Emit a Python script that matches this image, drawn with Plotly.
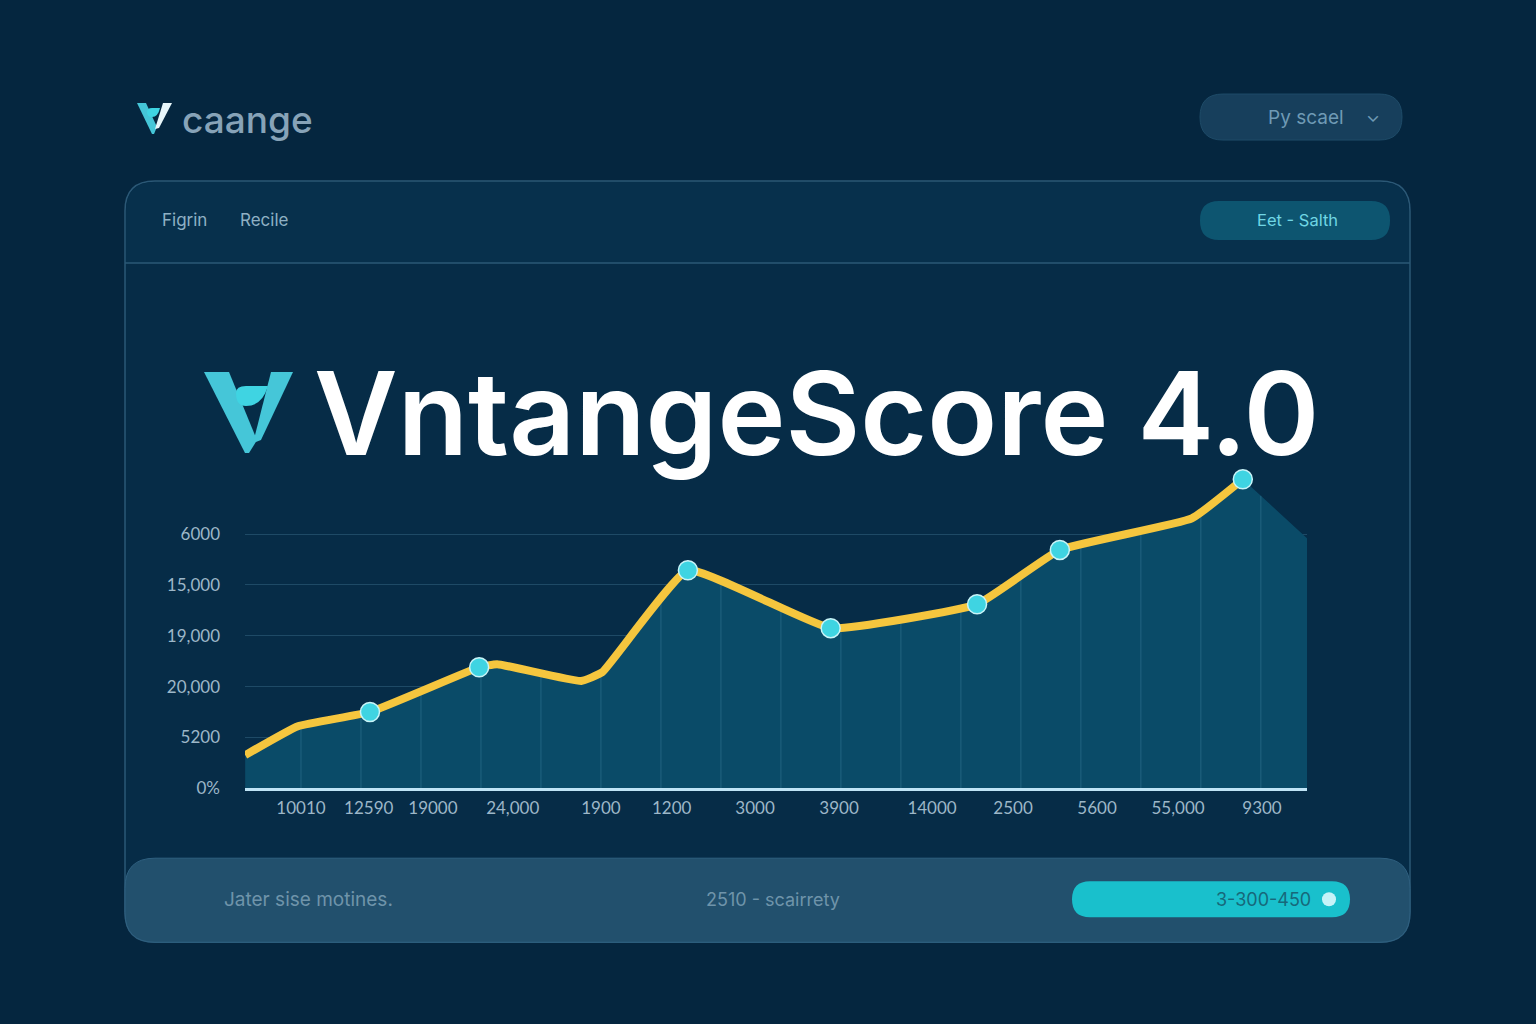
import numpy as np
import plotly.graph_objects as go

W, H = 1536, 1024
YS = 1.0101  # vertical compensation so the photographed page lines up with the design grid

# ---------------- data ----------------
line_x = [-0.93, -0.05, 1.15, 2.97, 3.27, 4.67, 5.02, 6.45, 8.83, 11.27, 12.65, 14.85, 15.70]
line_y = [0.65, 1.22, 1.50, 2.38, 2.44, 2.11, 2.28, 4.29, 3.15, 3.62, 4.69, 5.31, 6.08]
fill_tail_x = [16.77]
fill_tail_y = [4.92]
marker_idx = [2, 3, 7, 8, 9, 10, 12]
x_tick_pos = [0, 1.13, 2.2, 3.53, 5.0, 6.18, 7.57, 8.97, 10.52, 11.87, 13.27, 14.62, 16.02]
x_tick_labels = ["10010", "12590", "19000", "24,000", "1900", "1200", "3000",
                 "3900", "14000", "2500", "5600", "55,000", "9300"]
y_tick_pos = [0, 1, 2, 3, 4, 5]
y_tick_labels = ["0%", "5200", "20,000", "19,000", "15,000", "6000"]
vgrid_x = list(range(0, 17))

title_text = "VntangeScore 4.0"
brand_text = "caange"
tabs = ["Figrin", "Recile"]
dropdown_text = "Py scael"
pill_text = "Eet - Salth"
footer_left = "Jater sise motines."
footer_mid = "2510 - scairrety"
footer_pill = "3-300-450"

# ---------------- colours ----------------
BG = "#05263f"
CARD = "#062c47"
CARD_HEAD = "#07304c"
BORDER = "#2b5876"
FILL = "#0a4b68"
LINE = "#f5c63e"
MARK = "#3fd4e2"
FOOT = "#22506d"
TICK = "#9db7c8"

XR = [-0.933, 16.77]
YR = [0.0, 6.5]


def px(x):
    return x / W


def py(y):
    return 1 - y * YS / H


def P(x, y):
    return f"{px(x):.5f},{py(y):.5f}"


def rrect(x0, y0, x1, y1, r, top=True, bottom=True):
    rt = r if top else 0
    rb = r if bottom else 0
    return (f"M {P(x0 + rt, y0)} L {P(x1 - rt, y0)} Q {P(x1, y0)} {P(x1, y0 + rt)} "
            f"L {P(x1, y1 - rb)} Q {P(x1, y1)} {P(x1 - rb, y1)} "
            f"L {P(x0 + rb, y1)} Q {P(x0, y1)} {P(x0, y1 - rb)} "
            f"L {P(x0, y0 + rt)} Q {P(x0, y0)} {P(x0 + rt, y0)} Z")


def poly(pts):
    s = "M " + P(*pts[0])
    for p in pts[1:]:
        s += " L " + P(*p)
    return s + " Z"


shapes = []


def add_path(path, fill, line_color=None, width=0, layer="below"):
    shapes.append(dict(type="path", xref="paper", yref="paper", path=path,
                       fillcolor=fill, line=dict(color=line_color or "rgba(0,0,0,0)", width=width),
                       layer=layer))


# card + header + footer
add_path(rrect(125, 181, 1410, 942, 30), CARD, BORDER, 1.5)
add_path(rrect(126, 182, 1409, 263, 29, bottom=False), CARD_HEAD)
shapes.append(dict(type="line", xref="paper", yref="paper", x0=px(125), x1=px(1410),
                   y0=py(263), y1=py(263), line=dict(color=BORDER, width=1.5), layer="below"))
add_path(rrect(125, 858, 1410, 942, 30), FOOT, "#2f6080", 1)
# dropdown pill
add_path(rrect(1200, 94, 1402, 140, 23), "#173f5c", "#1e4b68", 1)
# header pill
add_path(rrect(1200, 201, 1390, 240, 19), "#0d5570")
# footer pill
add_path(rrect(1072, 881, 1350, 917, 18), "#19c0cc")
shapes.append(dict(type="circle", xref="paper", yref="paper", x0=px(1322), x1=px(1336),
                   y0=py(906), y1=py(892), fillcolor="#c6f3f8", line=dict(width=0), layer="above"))

# big logo
add_path(poly([(204, 372), (229, 372), (257, 440), (249, 453), (245, 453)]), "#45c6d8")
add_path(poly([(271, 372), (293, 372), (261, 440), (253, 443)]), "#45c6d8")
add_path(f"M {P(236, 393)} Q {P(236, 386)} {P(246, 386)} L {P(268, 386)} "
         f"Q {P(262, 406)} {P(246, 406)} Q {P(236, 406)} {P(236, 393)} Z", "#3fd4e2")
# small logo
add_path(poly([(137, 103), (146, 103), (157, 127), (154, 134), (152, 134)]), "#45c6d8")
add_path(poly([(163, 103), (172, 103), (159, 128), (155, 129)]), "#e8f6fa")
add_path(f"M {P(147, 112)} Q {P(147, 108)} {P(152, 108)} L {P(160, 108)} "
         f"Q {P(158, 117)} {P(152, 117)} Q {P(147, 117)} {P(147, 112)} Z", "#3fd4e2")

fig = go.Figure()

# area fill
fx = line_x + fill_tail_x
fy = line_y + fill_tail_y
fig.add_trace(go.Scatter(x=fx, y=fy, mode="lines", line=dict(width=0, color=FILL),
                         fill="tozeroy", fillcolor=FILL, hoverinfo="skip", showlegend=False))

# vertical grid lines inside the area
gx, gy = [], []
for v in vgrid_x:
    top = float(np.interp(v, fx, fy))
    gx += [v, v, None]
    gy += [0, top, None]
fig.add_trace(go.Scatter(x=gx, y=gy, mode="lines",
                         line=dict(color="rgba(110,180,210,0.20)", width=1.2),
                         hoverinfo="skip", showlegend=False))

# line
fig.add_trace(go.Scatter(x=line_x, y=line_y, mode="lines",
                         line=dict(color=LINE, width=8, shape="spline", smoothing=0.35),
                         showlegend=False))
# markers
fig.add_trace(go.Scatter(x=[line_x[i] for i in marker_idx], y=[line_y[i] for i in marker_idx],
                         mode="markers",
                         marker=dict(size=19, color=MARK, line=dict(color="#c9f4f8", width=1.5)),
                         showlegend=False))

ann = []


def text(x, y, s, size, color, anchor="left", family="Inter", weight=400):
    ann.append(dict(x=px(x), y=py(y), xref="paper", yref="paper", text=s, showarrow=False,
                    xanchor=anchor, yanchor="middle",
                    font=dict(size=size, color=color, family=family, weight=weight)))


text(180, 119, brand_text, 37, "#87a3b8", weight=500)
text(1306, 117, dropdown_text, 19, "#6f9ab5", anchor="center")
text(1373, 115, "⌄", 18, "#6f9ab5", anchor="center")
text(160, 220, tabs[0], 17, "#8fb0c4")
text(238, 220, tabs[1], 17, "#8fb0c4")
text(1297, 220, pill_text, 16.5, "#6fd6e4", anchor="center")
text(312, 413, title_text, 115, "#ffffff", weight=600)
text(222, 899, footer_left, 19, "#6f94aa")
text(773, 899, footer_mid, 18, "#6f94aa", anchor="center")
text(1313, 899, footer_pill, 18, "#17687a", anchor="right")

fig.update_layout(
    width=W, height=H, margin=dict(l=0, r=0, t=0, b=0),
    paper_bgcolor=BG, plot_bgcolor="rgba(0,0,0,0)",
    shapes=shapes, annotations=ann, showlegend=False,
    xaxis=dict(domain=[px(245), px(1307)], range=XR, tickvals=x_tick_pos, ticktext=x_tick_labels,
               showgrid=False, zeroline=False, showline=True, linecolor="#bfe4f6", linewidth=3,
               ticks="", tickfont=dict(size=17, color=TICK, family="Lato"), ticklabelstandoff=2),
    yaxis=dict(domain=[py(788), py(788 - 6.5 * 50.8)], range=YR, tickvals=y_tick_pos,
               ticktext=y_tick_labels, showgrid=True, gridcolor="rgba(60,110,140,0.45)", gridwidth=1,
               zeroline=False, showline=False, ticks="",
               tickfont=dict(size=17, color=TICK, family="Lato"), ticklabelstandoff=24),
)

fig.write_html("out.html")
